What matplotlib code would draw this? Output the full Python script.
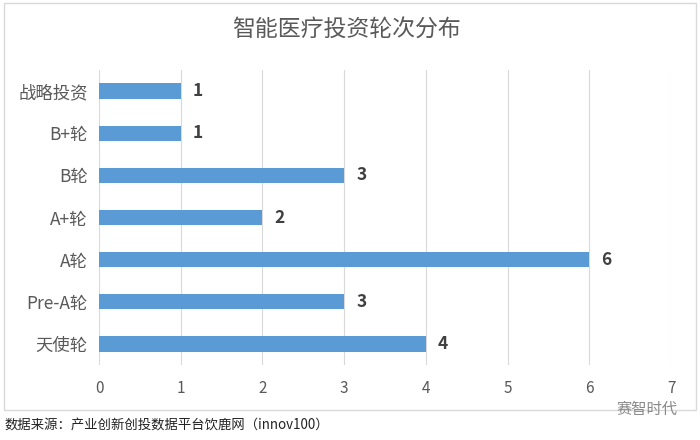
import matplotlib
matplotlib.use('Agg')
import matplotlib.pyplot as plt
from matplotlib.patches import Rectangle

plt.rcParams['font.family'] = ['Noto Sans CJK SC', 'DejaVu Sans']

# Data
rounds = ['战略投资', 'B+轮', 'B轮', 'A+轮', 'A轮', 'Pre-A轮', '天使轮']
counts = [1, 1, 3, 2, 6, 3, 4]
xticks = [0, 1, 2, 3, 4, 5, 6, 7]

title = '智能医疗投资轮次分布'
source = '数据来源：产业创新创投数据平台饮鹿网（innov100）'

W, H = 700, 440
fig = plt.figure(figsize=(7, 4.4), dpi=100)
fig.patch.set_facecolor('white')

# Outer chart frame
fig.patches.append(Rectangle((4 / W, 1 - 410 / H), 692 / W, 407 / H,
                             transform=fig.transFigure, fill=False,
                             edgecolor='#D9D9D9', linewidth=1))

ax = fig.add_axes([99 / W, 1 - 365 / H, (671 - 99) / W, (365 - 70) / H])
ypos = list(range(len(rounds)))
ax.barh(ypos, counts, height=0.36, color='#5B9BD5', zorder=3)
ax.set_ylim(len(rounds) - 0.5, -0.5)
ax.set_xlim(0, 7)
ax.set_xticks(xticks)
ax.set_yticks(ypos)
ax.set_yticklabels(rounds, fontsize=12.5, color='#595959')
ax.set_xticklabels([str(t) for t in xticks], fontsize=11, color='#595959')
ax.tick_params(axis='both', length=0)
ax.tick_params(axis='x', pad=11)
ax.tick_params(axis='y', pad=8)
ax.grid(axis='x', color='#D9D9D9', linewidth=0.8, zorder=0)
for s in ax.spines.values():
    s.set_visible(False)

for y, v in zip(ypos, counts):
    ax.text(v + 0.15, y, str(v), va='center', ha='left', fontsize=12.5,
            fontweight='bold', color='#404040')

fig.text(0.495, 1 - 30 / H, title, ha='center', va='center', fontsize=16.5,
         color='#595959')
fig.text(5 / W, 1 - 425 / H, source, ha='left', va='center', fontsize=9.6,
         color='#222222')
fig.text(677 / W, 1 - 409 / H, '赛智时代', ha='right', va='center',
         fontsize=11, color='#888888')

fig.savefig('out.png', dpi=100)
